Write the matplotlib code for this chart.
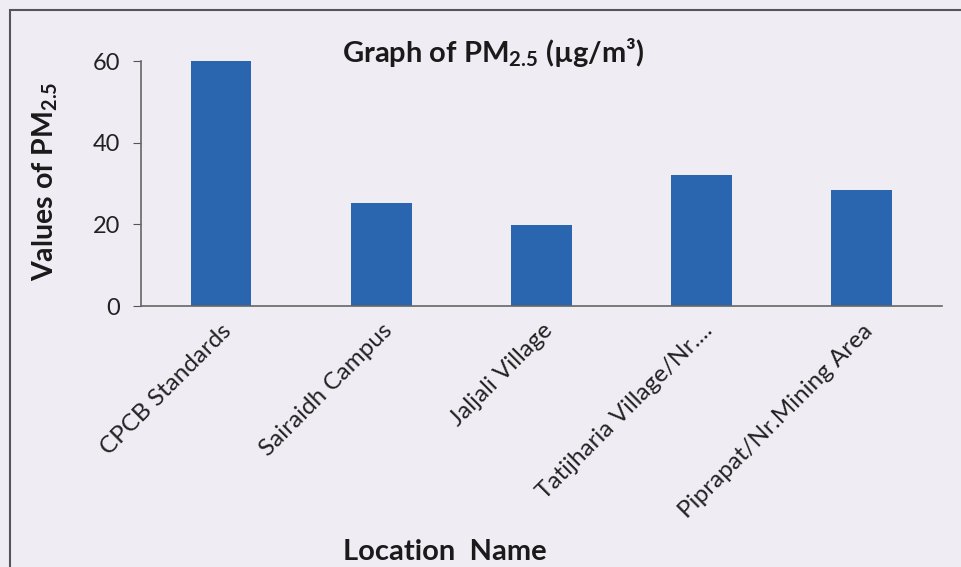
import matplotlib.pyplot as plt
from matplotlib.patches import Rectangle

# PM2.5 values per location
locations = ['CPCB Standards', 'Sairaidh Campus', 'Jaljali Village',
             'Tatijharia Village/Nr....', 'Piprapat/Nr.Mining Area']
pm25 = [60, 25.2, 19.8, 32.1, 28.4]
yticks = [0, 20, 40, 60]

bg = '#f0ecf4'
bar_color = '#2a66b0'
plt.rcParams['font.family'] = ['Lato', 'DejaVu Sans']
plt.rcParams['mathtext.fontset'] = 'custom'
plt.rcParams['mathtext.rm'] = 'Lato'
plt.rcParams['mathtext.bf'] = 'Lato:bold'
plt.rcParams['mathtext.it'] = 'Lato:italic'

fig = plt.figure(figsize=(9.61, 5.67), dpi=100, facecolor=bg)
ax = fig.add_axes([0.1467, 0.4603, 0.8333, 0.4321], facecolor=bg)

ax.bar(range(len(locations)), pm25, width=0.38, color=bar_color)
ax.set_xlim(-0.5, len(locations) - 0.5)
ax.set_ylim(0, 60)
ax.set_yticks(yticks)
ax.tick_params(axis='y', labelsize=17, length=6, color='#555555', pad=9,
               labelcolor='#222222')
ax.tick_params(axis='x', length=0, pad=10, labelcolor='#222222')
ax.set_xticks(range(len(locations)))
ax.set_xticklabels(locations, rotation=45, ha='right', rotation_mode='anchor',
                   fontsize=17.5)

for side in ['top', 'right']:
    ax.spines[side].set_visible(False)
for side in ['left', 'bottom']:
    ax.spines[side].set_color('#666666')
    ax.spines[side].set_linewidth(1.2)

fig.text(0.513, 0.891, r'Graph of PM$_{\mathbf{2.5}}$ (µg/m³)',
         ha='center', va='baseline', fontsize=21, fontweight='bold',
         color='#1a1a1a')
fig.text(0.047, 0.681, r'Values of PM$_{\mathbf{2.5}}$', rotation=90,
         ha='center', va='center', fontsize=20.5, fontweight='bold',
         color='#1a1a1a')
fig.text(0.463, 0.027, 'Location  Name', ha='center', va='center',
         fontsize=21, fontweight='bold', color='#1a1a1a')

# frame of the chart box
fig.patches.append(Rectangle((0.0105, -0.05), 1.0, 1.032, transform=fig.transFigure,
                             fill=False, edgecolor='#555555', linewidth=1.5))

fig.savefig('out.png', dpi=100, facecolor=bg)
